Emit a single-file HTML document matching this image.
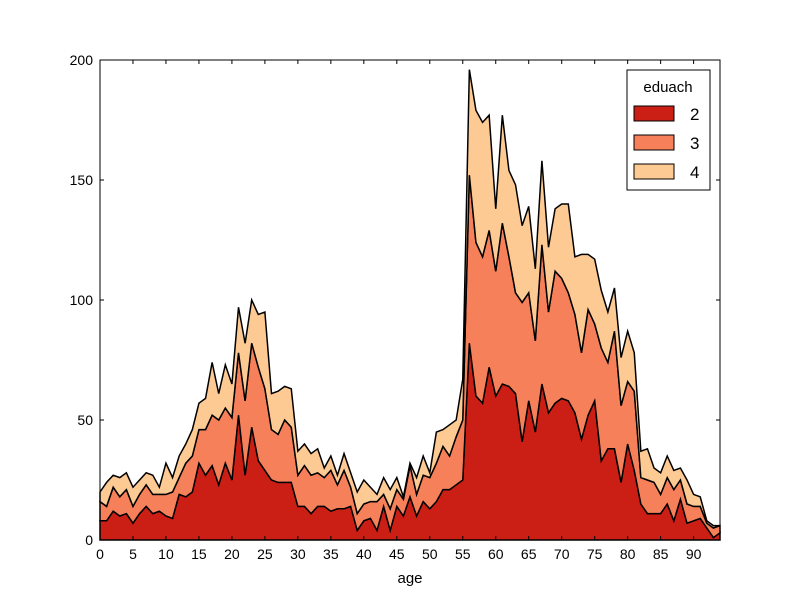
<!DOCTYPE html>
<html><head><meta charset="utf-8"><style>
body{margin:0;background:#fff;}
svg text{font-family:"Liberation Sans",sans-serif;}
</style></head><body>
<svg id="chart" width="800" height="600" xmlns="http://www.w3.org/2000/svg"></svg>
<script>
const ages = Array.from({length:95},(_,i)=>i);
const edu2 = [8,8,12,10,11,7,11,14,11,12,10,9,19,18,20,32,27,31,23,32,25,52,27,47,33,29,25,24,24,24,14,14,11,14,14,12,13,13,14,4,8,9,4,14,4,14,10,18,10,16,13,16,21,21,23,25,82,60,57,72,60,65,64,61,41,58,45,65,53,57,59,58,53,42,52,58,33,38,38,24,40,29,15,11,11,11,15,8,17,7,8,9,5,1,3];
const edu3 = [8,6,10,8,10,7,8,9,8,7,9,11,7,14,15,14,19,21,27,23,26,26,31,35,39,34,21,20,26,23,13,17,16,14,12,17,10,16,8,7,7,7,12,5,9,7,7,13,9,11,13,16,18,14,20,25,70,64,61,57,52,67,54,42,58,45,38,58,42,55,50,45,41,36,44,32,47,36,49,32,26,33,11,14,13,8,11,13,8,8,6,5,2,4,3];
const edu4 = [4,10,5,8,7,8,6,5,8,3,13,6,9,8,11,11,13,22,11,18,14,19,24,18,22,32,15,18,14,16,10,9,9,10,4,6,4,7,6,9,10,6,3,7,8,5,1,1,7,8,2,13,7,13,7,17,44,55,56,48,26,45,36,45,32,36,30,35,27,26,31,37,24,41,23,27,24,21,18,20,21,16,11,13,6,9,9,8,5,10,5,4,1,1,0];
const seriesNames = ["2","3","4"];
const seriesData = [edu2, edu3, edu4];
const colors = ["#cb1f16","#f6805a","#fdca94"];
const xTicks = [0,5,10,15,20,25,30,35,40,45,50,55,60,65,70,75,80,85,90];
const yTicks = [0,50,100,150,200];

const NS="http://www.w3.org/2000/svg";
const svg=document.getElementById('chart');
const L=100,R=720,T=60,B=540,xMax=94,yMax=200;
const xs=v=>L+(R-L)*v/xMax;
const ys=v=>B-(B-T)*v/yMax;
function mk(tag,attrs,parent){const e=document.createElementNS(NS,tag);for(const k in attrs)e.setAttribute(k,attrs[k]);(parent||svg).appendChild(e);return e;}

let base=ages.map(()=>0);
seriesData.forEach((s,si)=>{
  const top=base.map((b,i)=>b+s[i]);
  let d='M'+ages.map((a,i)=>xs(a)+','+ys(top[i])).join(' L');
  for(let i=ages.length-1;i>=0;i--) d+=' L'+xs(ages[i])+','+ys(base[i]);
  d+=' Z';
  const p=mk('path',{d:d,fill:colors[si],stroke:'#000','stroke-width':1.5,'stroke-linejoin':'miter'});
  
  
  base=top;
});

const frame=mk('rect',{x:L,y:T,width:R-L,height:B-T,fill:'none',stroke:'#000','stroke-width':1});



xTicks.forEach(t=>{
  const x=xs(t);
  mk('line',{x1:x,x2:x,y1:B,y2:B-4,stroke:'#000'});
  mk('line',{x1:x,x2:x,y1:T,y2:T+4,stroke:'#000'});
  const tx=mk('text',{x:x,y:B+19,'text-anchor':'middle','font-size':14});
  tx.textContent=t;
  
  
});
yTicks.forEach(t=>{
  const y=ys(t);
  mk('line',{x1:L,x2:L+4,y1:y,y2:y,stroke:'#000'});
  mk('line',{x1:R,x2:R-4,y1:y,y2:y,stroke:'#000'});
  const tx=mk('text',{x:L-7,y:y+5,'text-anchor':'end','font-size':14});
  tx.textContent=t;
  
  
});
const xl=mk('text',{x:410,y:583,'text-anchor':'middle','font-size':15});
xl.textContent='age';



const lg=mk('g',{});


mk('rect',{x:627,y:70,width:83,height:120,fill:'#fff',stroke:'#000'},lg);
const lt=mk('text',{x:668,y:92,'text-anchor':'middle','font-size':15},lg);
lt.textContent='eduach';


seriesNames.forEach((n,i)=>{
  const y=106+i*29;
  const g=mk('g',{},lg);
  
  
  mk('rect',{x:634,y:y,width:40,height:15,fill:colors[i],stroke:'#000'},g);
  const t=mk('text',{x:690,y:y+14,'font-size':17},g);
  t.textContent=n;
});
</script>
</body></html>
